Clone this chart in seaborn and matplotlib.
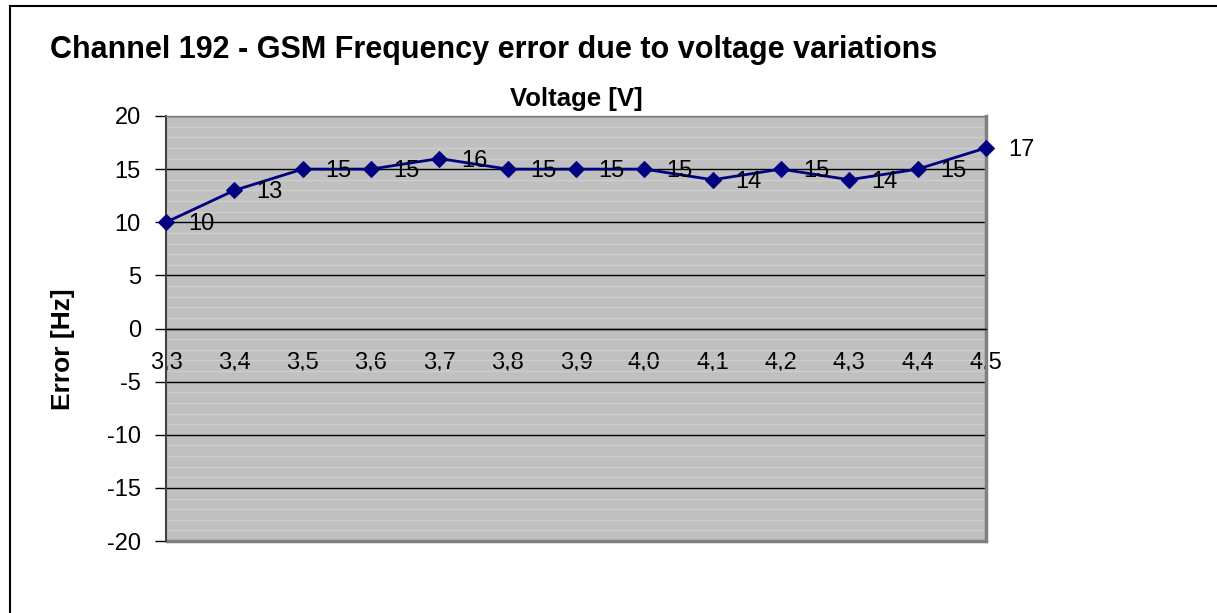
import matplotlib
matplotlib.use("Agg")
import matplotlib.pyplot as plt
import matplotlib.patches as patches
from matplotlib.ticker import MultipleLocator, FixedLocator
import seaborn as sns
import pandas as pd

# data
voltages = [3.3, 3.4, 3.5, 3.6, 3.7, 3.8, 3.9, 4.0, 4.1, 4.2, 4.3, 4.4, 4.5]
errors = [10, 13, 15, 15, 16, 15, 15, 15, 14, 15, 14, 15, 17]
tick_labels = ["3,3", "3,4", "3,5", "3,6", "3,7", "3,8", "3,9", "4,0",
               "4,1", "4,2", "4,3", "4,4", "4,5"]
y_ticks = [-20, -15, -10, -5, 0, 5, 10, 15, 20]

title = "Channel 192 - GSM Frequency error due to voltage variations"

sns.set_style("white")
plt.rcParams['font.family'] = ['Liberation Sans', 'DejaVu Sans']
plt.rcParams['axes.unicode_minus'] = False
plt.rcParams['text.color'] = 'black'
plt.rcParams['xtick.color'] = 'black'
plt.rcParams['ytick.color'] = 'black'

df = pd.DataFrame({"Voltage": voltages, "Error": errors})

W, H = 1217, 613
fig = plt.figure(figsize=(W / 100, H / 100), dpi=100)
ax = fig.add_axes([166 / W, 1 - 541 / H, (986 - 166) / W, (541 - 116) / H])

# plot area: gray background with minor and major gridlines
ax.set_facecolor("#c0c0c0")
ax.set_xlim(3.3, 4.5)
ax.set_ylim(-20, 20)
ax.yaxis.set_minor_locator(MultipleLocator(1))
ax.grid(which="minor", axis="y", color="#cdcdcd", linewidth=1, zorder=0)
ax.grid(which="major", axis="y", color="black", linewidth=1, zorder=1)
ax.set_axisbelow(True)

sns.lineplot(data=df, x="Voltage", y="Error", ax=ax, color="#000080",
             linewidth=2, marker="D", markersize=8,
             markeredgecolor="#000080", zorder=3, clip_on=False)

for v, e in zip(voltages, errors):
    ax.annotate(str(e), (v, e), xytext=(16, -1.5), textcoords="offset points",
                ha="left", va="center", fontsize=17, color="black")

# axes styling, x axis crosses at y = 0
ax.spines["bottom"].set_position(("data", 0))
ax.spines["bottom"].set_color("black")
ax.spines["bottom"].set_linewidth(1)
ax.spines["left"].set_color("#404040")
ax.spines["left"].set_linewidth(1.5)
for s in ["top", "right"]:
    ax.spines[s].set_color("#808080")
    ax.spines[s].set_linewidth(1)
ax.spines["right"].set_linewidth(2.5)
# bottom edge of the plot area
ax.axhline(-20, color="#808080", linewidth=2.5, zorder=2, clip_on=False)

ax.xaxis.set_major_locator(FixedLocator(voltages))
ax.set_xticklabels(tick_labels)
ax.set_yticks(y_ticks)
ax.tick_params(axis="x", which="major", direction="out", length=5, width=1,
               pad=12, labelsize=17, color="black", labelcolor="black")
ax.tick_params(axis="y", which="major", direction="out", length=8, width=1,
               pad=10, labelsize=17, color="black", labelcolor="black",
               left=True)
ax.tick_params(axis="y", which="minor", length=0)
ax.set_xlabel("")
ax.set_ylabel("")

ax.set_title("Voltage [V]", fontsize=18.5, fontweight="bold", pad=7)
fig.text(63 / W, 1 - 349 / H, "Error [Hz]", rotation=90, fontsize=19,
         fontweight="bold", ha="center", va="center")
fig.text(50 / W, 1 - 50 / H, title, fontsize=22, fontweight="bold",
         ha="left", va="center")

# chart border
fig.patches.append(patches.Rectangle((9.5 / W, -0.1), 1.2, 1.1 - 6.5 / H,
                                     transform=fig.transFigure, fill=False,
                                     edgecolor="black", linewidth=1.5))

fig.savefig("out.png", dpi=100)
